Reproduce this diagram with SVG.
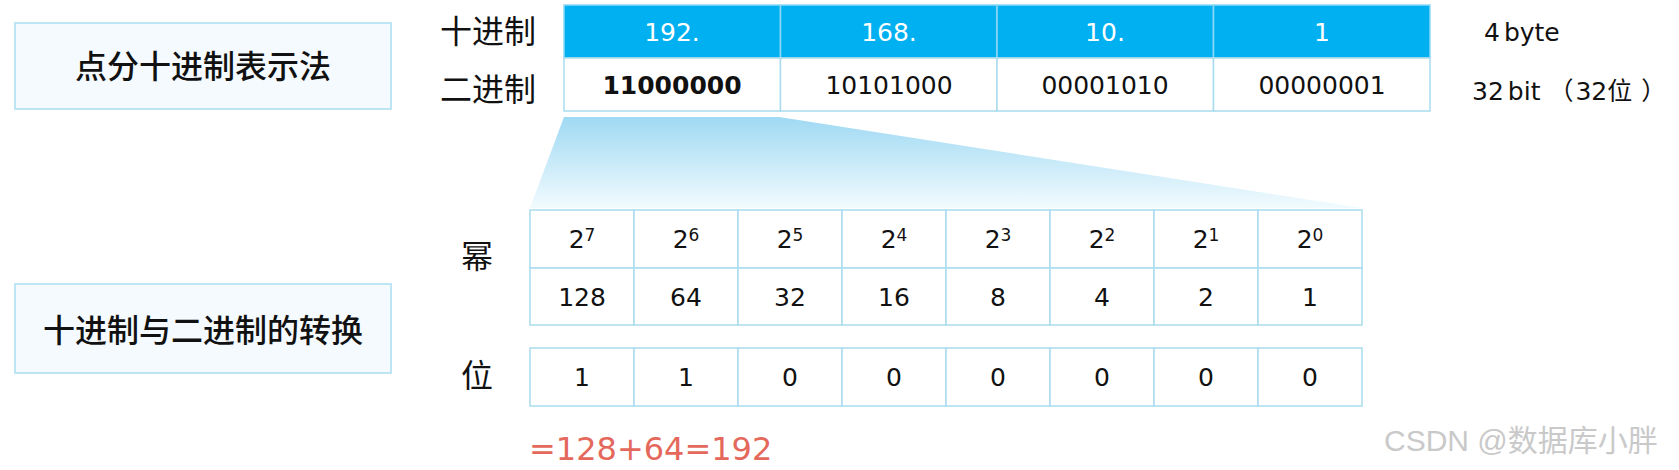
<svg xmlns="http://www.w3.org/2000/svg" width="1679" height="470" viewBox="0 0 1679 470">
<defs>
<linearGradient id="fan" x1="0" y1="0" x2="0" y2="1">
<stop offset="0" stop-color="#9fd9f3"/>
<stop offset="1" stop-color="#f2fbfe"/>
</linearGradient>
<style>
.box{fill:#f4fafd;stroke:#bde5f4;stroke-width:2}
.cell{fill:#ffffff;stroke:#a9dcee;stroke-width:1.5}
.hcell{fill:#00b0f0;stroke:#8fd8f5;stroke-width:1.5}
.cn{font-family:"Noto Sans CJK SC","DejaVu Sans",sans-serif;fill:#111;text-anchor:middle}
.title{font-size:32px;font-weight:500}
.lab{font-size:32px}
.num{font-family:"DejaVu Sans","Noto Sans CJK SC",sans-serif;font-size:25px;fill:#111;text-anchor:middle}
.note{font-family:"DejaVu Sans","Noto Sans CJK SC",sans-serif;font-size:25px;fill:#111;text-anchor:start}
.hnum{fill:#ffffff}
.sup{font-size:17px}
.red{font-family:"DejaVu Sans",sans-serif;font-size:32px;fill:#e4685b}
.wm{font-family:"Liberation Sans","Noto Sans CJK SC",sans-serif;font-size:30px;fill:#c9c9c9}
</style>
</defs>
<rect width="1679" height="470" fill="#ffffff"/>

<g id="box-dotted">
<rect class="box" x="15" y="23" width="376" height="86"/>
<text class="cn title" x="203" y="78">点分十进制表示法</text>
</g>
<g id="box-convert">
<rect class="box" x="15" y="284" width="376" height="89"/>
<text class="cn title" x="203" y="342">十进制与二进制的转换</text>
</g>

<g id="labels">
<text class="cn lab" x="488" y="43">十进制</text>
<text class="cn lab" x="488" y="101">二进制</text>
<text class="cn lab" x="477" y="268">幂</text>
<text class="cn lab" x="477" y="387">位</text>
</g>

<g id="fan-connector">
<polygon points="564,117 779,117 1362,208 530,208" fill="url(#fan)"/>
</g>

<g id="ip-table">
<rect class="hcell" x="564" y="5" width="216.5" height="53"/>
<rect class="hcell" x="780.5" y="5" width="216.5" height="53"/>
<rect class="hcell" x="997" y="5" width="216.5" height="53"/>
<rect class="hcell" x="1213.5" y="5" width="216.5" height="53"/>
<rect class="cell" x="564" y="58" width="216.5" height="53"/>
<rect class="cell" x="780.5" y="58" width="216.5" height="53"/>
<rect class="cell" x="997" y="58" width="216.5" height="53"/>
<rect class="cell" x="1213.5" y="58" width="216.5" height="53"/>
<text class="num hnum" x="672" y="41">192.</text>
<text class="num hnum" x="889" y="41">168.</text>
<text class="num hnum" x="1105" y="41">10.</text>
<text class="num hnum" x="1322" y="41">1</text>
<text class="num" x="672" y="94" font-weight="bold">11000000</text>
<text class="num" x="889" y="94">10101000</text>
<text class="num" x="1105" y="94">00001010</text>
<text class="num" x="1322" y="94">00000001</text>
</g>

<g id="size-notes">
<text class="note" x="1484" y="41">4<tspan dx="4">byte</tspan></text>
<text class="note" x="1472" y="100">32<tspan dx="4">bit</tspan><tspan dx="8">（</tspan><tspan dx="2">32位</tspan><tspan dx="9">）</tspan></text>
</g>

<g id="power-table">
<rect class="cell" x="530" y="210" width="104" height="58"/>
<rect class="cell" x="634" y="210" width="104" height="58"/>
<rect class="cell" x="738" y="210" width="104" height="58"/>
<rect class="cell" x="842" y="210" width="104" height="58"/>
<rect class="cell" x="946" y="210" width="104" height="58"/>
<rect class="cell" x="1050" y="210" width="104" height="58"/>
<rect class="cell" x="1154" y="210" width="104" height="58"/>
<rect class="cell" x="1258" y="210" width="104" height="58"/>
<rect class="cell" x="530" y="268" width="104" height="57"/>
<rect class="cell" x="634" y="268" width="104" height="57"/>
<rect class="cell" x="738" y="268" width="104" height="57"/>
<rect class="cell" x="842" y="268" width="104" height="57"/>
<rect class="cell" x="946" y="268" width="104" height="57"/>
<rect class="cell" x="1050" y="268" width="104" height="57"/>
<rect class="cell" x="1154" y="268" width="104" height="57"/>
<rect class="cell" x="1258" y="268" width="104" height="57"/>
<text class="num" x="582" y="248">2<tspan class="sup" dy="-7">7</tspan></text>
<text class="num" x="686" y="248">2<tspan class="sup" dy="-7">6</tspan></text>
<text class="num" x="790" y="248">2<tspan class="sup" dy="-7">5</tspan></text>
<text class="num" x="894" y="248">2<tspan class="sup" dy="-7">4</tspan></text>
<text class="num" x="998" y="248">2<tspan class="sup" dy="-7">3</tspan></text>
<text class="num" x="1102" y="248">2<tspan class="sup" dy="-7">2</tspan></text>
<text class="num" x="1206" y="248">2<tspan class="sup" dy="-7">1</tspan></text>
<text class="num" x="1310" y="248">2<tspan class="sup" dy="-7">0</tspan></text>
<text class="num" x="582" y="306">128</text>
<text class="num" x="686" y="306">64</text>
<text class="num" x="790" y="306">32</text>
<text class="num" x="894" y="306">16</text>
<text class="num" x="998" y="306">8</text>
<text class="num" x="1102" y="306">4</text>
<text class="num" x="1206" y="306">2</text>
<text class="num" x="1310" y="306">1</text>
</g>

<g id="bit-table">
<rect class="cell" x="530" y="348" width="104" height="58"/>
<rect class="cell" x="634" y="348" width="104" height="58"/>
<rect class="cell" x="738" y="348" width="104" height="58"/>
<rect class="cell" x="842" y="348" width="104" height="58"/>
<rect class="cell" x="946" y="348" width="104" height="58"/>
<rect class="cell" x="1050" y="348" width="104" height="58"/>
<rect class="cell" x="1154" y="348" width="104" height="58"/>
<rect class="cell" x="1258" y="348" width="104" height="58"/>
<text class="num" x="582" y="386">1</text>
<text class="num" x="686" y="386">1</text>
<text class="num" x="790" y="386">0</text>
<text class="num" x="894" y="386">0</text>
<text class="num" x="998" y="386">0</text>
<text class="num" x="1102" y="386">0</text>
<text class="num" x="1206" y="386">0</text>
<text class="num" x="1310" y="386">0</text>
</g>

<g id="sum">
<text class="red" x="529" y="460">=128+64=192</text>
</g>

<g id="watermark">
<text class="wm" x="1384" y="451">CSDN @数据库小胖</text>
</g>
</svg>
